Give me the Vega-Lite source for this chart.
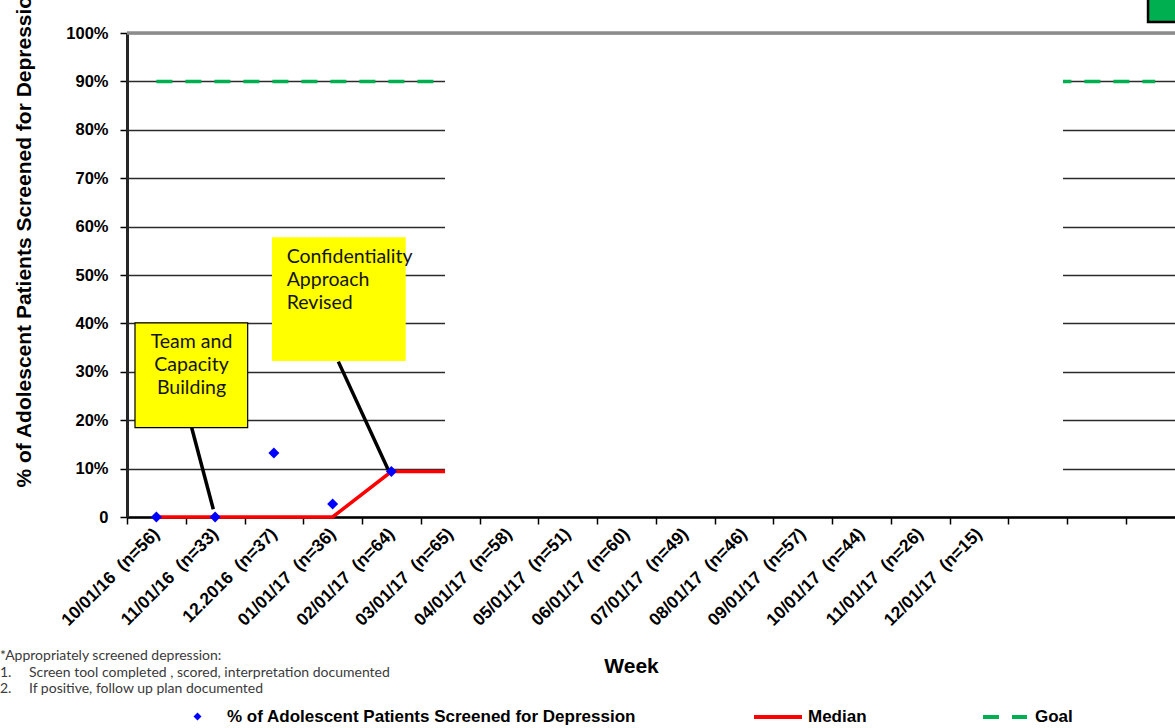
{
  "$schema": "https://vega.github.io/schema/vega-lite/v6.json",
  "width": 1048,
  "height": 484,
  "autosize": {"type": "none"},
  "padding": {"left": 127, "top": 33, "right": 0, "bottom": 211},
  "background": "white",
  "config": {
    "view": {"stroke": null},
    "font": "Liberation Sans",
    "legend": {
      "orient": "none",
      "title": null,
      "padding": 0,
      "labelFont": "Liberation Sans",
      "labelFontSize": 17,
      "labelFontWeight": "bold",
      "labelColor": "#000000",
      "labelLimit": 0
    }
  },
  "title": {
    "text": [
      "*Appropriately screened depression:",
      "1.\u2003\u2002Screen tool completed , scored, interpretation documented",
      "2.\u2003\u2002If positive, follow up plan documented"
    ],
    "orient": "bottom",
    "anchor": "start",
    "frame": "group",
    "align": "left",
    "font": "Lato",
    "fontSize": 14,
    "fontWeight": "normal",
    "color": "#3a3a3a",
    "lineHeight": 16.5,
    "offset": 0,
    "dx": -127,
    "dy": -76
  },
  "datasets": {
    "periods": [
      {"k": 1, "month": "10/01/16  (n=56)", "pct": 0, "median": 0, "goal": 0.9},
      {"k": 2, "month": "11/01/16  (n=33)", "pct": 0, "median": 0, "goal": 0.9},
      {"k": 3, "month": "12.2016  (n=37)", "pct": 0.132, "median": 0, "goal": 0.9},
      {"k": 4, "month": "01/01/17  (n=36)", "pct": 0.027, "median": 0, "goal": 0.9},
      {"k": 5, "month": "02/01/17  (n=64)", "pct": 0.094, "median": 0.094, "goal": 0.9},
      {"k": 6, "month": "03/01/17  (n=65)", "pct": null, "median": 0.094, "goal": 0.9},
      {"k": 7, "month": "04/01/17  (n=58)", "pct": null, "median": null, "goal": 0.9},
      {"k": 8, "month": "05/01/17  (n=51)", "pct": null, "median": null, "goal": 0.9},
      {"k": 9, "month": "06/01/17  (n=60)", "pct": null, "median": null, "goal": 0.9},
      {"k": 10, "month": "07/01/17  (n=49)", "pct": null, "median": null, "goal": 0.9},
      {"k": 11, "month": "08/01/17  (n=46)", "pct": null, "median": null, "goal": 0.9},
      {"k": 12, "month": "09/01/17  (n=57)", "pct": null, "median": null, "goal": 0.9},
      {"k": 13, "month": "10/01/17  (n=44)", "pct": null, "median": null, "goal": 0.9},
      {"k": 14, "month": "11/01/17  (n=26)", "pct": null, "median": null, "goal": 0.9},
      {"k": 15, "month": "12/01/17  (n=15)", "pct": null, "median": null, "goal": 0.9},
      {"k": 16, "month": "", "pct": null, "median": null, "goal": 0.9},
      {"k": 17, "month": "", "pct": null, "median": null, "goal": 0.9},
      {"k": 18, "month": "", "pct": null, "median": null, "goal": 0.9}
    ],
    "callouts": [
      {"note": "Team and\nCapacity\nBuilding", "boxL": 0.636, "boxR": 2.554, "boxB": 0.1845, "boxT": 0.401, "textK": 1.598, "textY": 0.362, "fromK": 1.601, "fromY": 0.1845, "toK": 1.969, "toY": 0.016},
      {"note": "Confidentiality\nApproach\nRevised", "boxL": 2.968, "boxR": 5.244, "boxB": 0.3223, "boxT": 0.578, "textK": 3.218, "textY": 0.537, "fromK": 4.097, "fromY": 0.321, "toK": 4.948, "toY": 0.097}
    ]
  },
  "layer": [
    {
      "data": {"name": "periods"},
      "mark": {"type": "line", "stroke": "#00B050", "strokeWidth": 3.5, "strokeCap": "butt"},
      "encoding": {
        "x": {
          "field": "k",
          "type": "quantitative",
          "scale": {"domain": [0.5, 18.338], "nice": false, "zero": false},
          "axis": {
            "title": "Week",
            "titleFont": "Liberation Sans",
            "titleFontSize": 21,
            "titleFontWeight": "bold",
            "titleColor": "#000000",
            "titleX": 504,
            "titleY": 149,
            "titleAlign": "center",
            "titleBaseline": "middle",
            "values": [1, 2, 3, 4, 5, 6, 7, 8, 9, 10, 11, 12, 13, 14, 15, 16, 17, 18],
            "labelExpr": "['10/01/16\u00a0 (n=56)','11/01/16\u00a0 (n=33)','12.2016\u00a0 (n=37)','01/01/17\u00a0 (n=36)','02/01/17\u00a0 (n=64)','03/01/17\u00a0 (n=65)','04/01/17\u00a0 (n=58)','05/01/17\u00a0 (n=51)','06/01/17\u00a0 (n=60)','07/01/17\u00a0 (n=49)','08/01/17\u00a0 (n=46)','09/01/17\u00a0 (n=57)','10/01/17\u00a0 (n=44)','11/01/17\u00a0 (n=26)','12/01/17\u00a0 (n=15)'][datum.value - 1] || ''",
            "labelAngle": -45,
            "labelAlign": "right",
            "labelBaseline": "middle",
            "labelFont": "Liberation Sans",
            "labelFontSize": 17.5,
            "labelFontWeight": "bold",
            "labelColor": "#000000",
            "labelPadding": 7,
            "labelOffset": 29.4,
            "tickOffset": -29.375,
            "labelOverlap": false,
            "labelFlush": false,
            "labelBound": false,
            "grid": false,
            "domainColor": "#000000",
            "domainWidth": 2.5,
            "tickColor": "#000000",
            "tickWidth": 1.5,
            "tickSize": 7
          }
        },
        "y": {
          "field": "goal",
          "type": "quantitative",
          "scale": {"domain": [0, 1], "nice": false, "zero": true},
          "axis": {
            "title": "% of Adolescent Patients Screened for Depression",
            "titleFont": "Liberation Sans",
            "titleFontSize": 21,
            "titleFontWeight": "bold",
            "titleColor": "#000000",
            "titleAngle": 270,
            "titleX": -97,
            "titleY": 454,
            "titleAlign": "left",
            "titleBaseline": "alphabetic",
            "values": [0, 0.1, 0.2, 0.3, 0.4, 0.5, 0.6, 0.7, 0.8, 0.9, 1],
            "labelExpr": "datum.value === 0 ? '0' : format(datum.value, '.0%')",
            "labelFont": "Liberation Sans",
            "labelFontSize": 16.5,
            "labelFontWeight": "bold",
            "labelColor": "#000000",
            "labelPadding": 12,
            "labelOverlap": false,
            "labelFlush": false,
            "grid": true,
            "gridColor": "#2b2b2b",
            "gridWidth": 1.5,
            "domainColor": "#262626",
            "domainWidth": 3,
            "tickColor": "#000000",
            "tickWidth": 1.5,
            "tickSize": 7
          }
        },
        "strokeDash": {
          "datum": "Goal",
          "type": "nominal",
          "scale": {"range": [[16, 13]]},
          "legend": {
            "legendX": 854,
            "legendY": 660,
            "symbolType": "stroke",
            "symbolSize": 1936,
            "symbolStrokeColor": "#00B050",
            "symbolStrokeWidth": 4,
            "labelOffset": 6
          }
        }
      }
    },
    {
      "data": {"name": "periods"},
      "mark": {"type": "line", "strokeWidth": 3.5},
      "encoding": {
        "x": {"field": "k", "type": "quantitative", "scale": {"domain": [0.5, 18.338], "nice": false, "zero": false}},
        "y": {"field": "median", "type": "quantitative", "scale": {"domain": [0, 1], "nice": false, "zero": true}},
        "stroke": {
          "datum": "Median",
          "type": "nominal",
          "scale": {"range": ["#FF0000"]},
          "legend": {
            "legendX": 625,
            "legendY": 658,
            "symbolType": "stroke",
            "symbolSize": 2304,
            "symbolStrokeWidth": 4,
            "labelOffset": 4
          }
        }
      }
    },
    {
      "data": {"values": [{}]},
      "mark": {"type": "rect", "fill": "#ffffff"},
      "encoding": {
        "x": {"datum": 5.913, "type": "quantitative", "scale": {"domain": [0.5, 18.338], "nice": false, "zero": false}},
        "x2": {"datum": 16.432},
        "y": {"datum": 0.006, "type": "quantitative", "scale": {"domain": [0, 1], "nice": false, "zero": true}},
        "y2": {"datum": 0.994}
      }
    },
    {
      "data": {"values": [{}]},
      "mark": {"type": "rule", "stroke": "#8c8c8c", "strokeWidth": 3.5},
      "encoding": {
        "y": {"datum": 1, "type": "quantitative", "scale": {"domain": [0, 1], "nice": false, "zero": true}}
      }
    },
    {
      "data": {"name": "callouts"},
      "mark": {"type": "rect", "fill": "#FFFF00"},
      "encoding": {
        "x": {"field": "boxL", "type": "quantitative", "scale": {"domain": [0.5, 18.338], "nice": false, "zero": false}},
        "x2": {"field": "boxR"},
        "y": {"field": "boxB", "type": "quantitative", "scale": {"domain": [0, 1], "nice": false, "zero": true}},
        "y2": {"field": "boxT"}
      }
    },
    {
      "data": {"name": "callouts"},
      "transform": [{"filter": "indexof(datum.note, 'Team') === 0"}],
      "mark": {"type": "rect", "fill": null, "stroke": "#000000", "strokeWidth": 1.2},
      "encoding": {
        "x": {"field": "boxL", "type": "quantitative", "scale": {"domain": [0.5, 18.338], "nice": false, "zero": false}},
        "x2": {"field": "boxR"},
        "y": {"field": "boxB", "type": "quantitative", "scale": {"domain": [0, 1], "nice": false, "zero": true}},
        "y2": {"field": "boxT"}
      }
    },
    {
      "data": {"name": "callouts"},
      "mark": {"type": "rule", "stroke": "#000000", "strokeWidth": 3.5},
      "encoding": {
        "x": {"field": "fromK", "type": "quantitative", "scale": {"domain": [0.5, 18.338], "nice": false, "zero": false}},
        "x2": {"field": "toK"},
        "y": {"field": "fromY", "type": "quantitative", "scale": {"domain": [0, 1], "nice": false, "zero": true}},
        "y2": {"field": "toY"}
      }
    },
    {
      "data": {"name": "callouts"},
      "transform": [{"filter": "indexof(datum.note, 'Team') === 0"}],
      "mark": {"type": "text", "font": "Lato", "fontSize": 19.5, "color": "#141414", "align": "center", "baseline": "middle", "lineBreak": "\n", "lineHeight": 23},
      "encoding": {
        "x": {"field": "textK", "type": "quantitative", "scale": {"domain": [0.5, 18.338], "nice": false, "zero": false}},
        "y": {"field": "textY", "type": "quantitative", "scale": {"domain": [0, 1], "nice": false, "zero": true}},
        "text": {"field": "note", "type": "nominal"}
      }
    },
    {
      "data": {"name": "callouts"},
      "transform": [{"filter": "indexof(datum.note, 'Confidentiality') === 0"}],
      "mark": {"type": "text", "font": "Lato", "fontSize": 19.5, "color": "#141414", "align": "left", "baseline": "middle", "lineBreak": "\n", "lineHeight": 23},
      "encoding": {
        "x": {"field": "textK", "type": "quantitative", "scale": {"domain": [0.5, 18.338], "nice": false, "zero": false}},
        "y": {"field": "textY", "type": "quantitative", "scale": {"domain": [0, 1], "nice": false, "zero": true}},
        "text": {"field": "note", "type": "nominal"}
      }
    },
    {
      "data": {"name": "periods"},
      "mark": {"type": "point", "shape": "diamond", "filled": true, "size": 121, "opacity": 1},
      "encoding": {
        "x": {"field": "k", "type": "quantitative", "scale": {"domain": [0.5, 18.338], "nice": false, "zero": false}},
        "y": {"field": "pct", "type": "quantitative", "scale": {"domain": [0, 1], "nice": false, "zero": true}},
        "fill": {
          "datum": "% of Adolescent Patients Screened for Depression",
          "type": "nominal",
          "scale": {"range": ["#0000FF"]},
          "legend": {
            "legendX": 62,
            "legendY": 675,
            "symbolType": "diamond",
            "symbolSize": 64,
            "labelOffset": 21
          }
        }
      }
    },
    {
      "data": {"values": [{}]},
      "mark": {"type": "rect", "fill": "#00B050", "stroke": "#000000", "strokeWidth": 2.5},
      "encoding": {
        "x": {"datum": 17.879, "type": "quantitative", "scale": {"domain": [0.5, 18.338], "nice": false, "zero": false}},
        "x2": {"datum": 18.7},
        "y": {"datum": 1.0227, "type": "quantitative", "scale": {"domain": [0, 1], "nice": false, "zero": true}},
        "y2": {"datum": 1.12}
      }
    }
  ]
}
